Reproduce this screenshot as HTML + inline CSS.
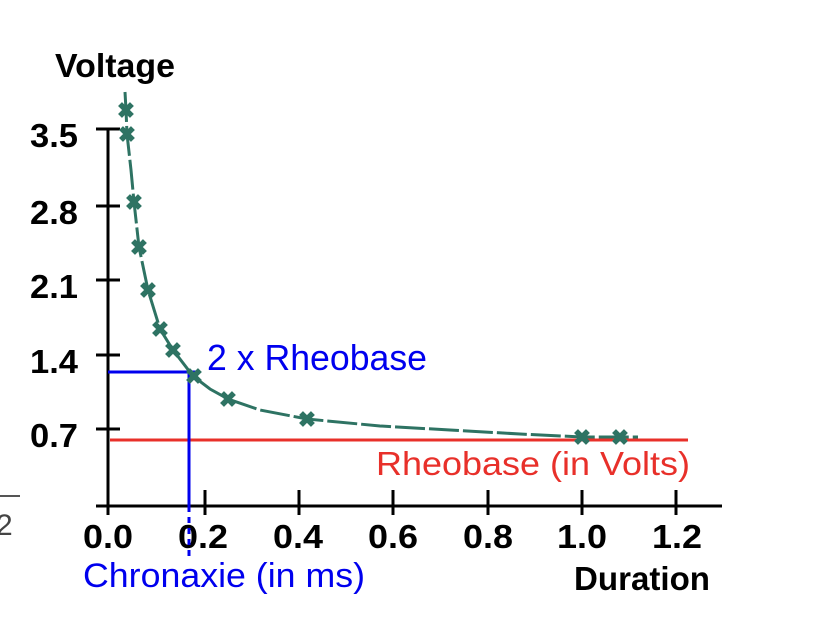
<!DOCTYPE html>
<html><head><meta charset="utf-8"><style>
html,body{margin:0;padding:0;background:#fff;}
svg{display:block;}
text{font-family:"Liberation Sans",sans-serif;}
.b{font-weight:bold;fill:#000;font-size:33px;}
</style></head><body>
<svg width="818" height="638" viewBox="0 0 818 638" xmlns="http://www.w3.org/2000/svg">
<rect width="818" height="638" fill="#fff"/>
<line x1="0" y1="496" x2="20" y2="496" stroke="#555" stroke-width="2"/>
<text x="-4" y="535" font-size="30" fill="#444">2</text>
<g stroke="#000" stroke-width="3" fill="none">
<line x1="108" y1="129" x2="108" y2="515"/>
<line x1="96" y1="506" x2="722" y2="506"/>
<line x1="96" y1="129" x2="120" y2="129"/>
<line x1="96" y1="206" x2="120" y2="206"/>
<line x1="96" y1="280" x2="120" y2="280"/>
<line x1="96" y1="355" x2="120" y2="355"/>
<line x1="96" y1="429" x2="120" y2="429"/>
<line x1="205" y1="490" x2="205" y2="515"/>
<line x1="299" y1="490" x2="299" y2="515"/>
<line x1="393" y1="490" x2="393" y2="515"/>
<line x1="488" y1="490" x2="488" y2="515"/>
<line x1="582" y1="490" x2="582" y2="515"/>
<line x1="676" y1="490" x2="676" y2="515"/>
</g>
<text class="b" x="55" y="77" font-size="32" textLength="120" lengthAdjust="spacingAndGlyphs">Voltage</text>
<g class="b">
<text x="30" y="147" textLength="48" lengthAdjust="spacingAndGlyphs">3.5</text>
<text x="30" y="224" textLength="48" lengthAdjust="spacingAndGlyphs">2.8</text>
<text x="30" y="298" textLength="48" lengthAdjust="spacingAndGlyphs">2.1</text>
<text x="30" y="373" textLength="48" lengthAdjust="spacingAndGlyphs">1.4</text>
<text x="30" y="447" textLength="48" lengthAdjust="spacingAndGlyphs">0.7</text>
</g>
<g class="b">
<text x="83" y="548" textLength="50" lengthAdjust="spacingAndGlyphs">0.0</text>
<text x="178" y="548" textLength="50" lengthAdjust="spacingAndGlyphs">0.2</text>
<text x="273" y="548" textLength="50" lengthAdjust="spacingAndGlyphs">0.4</text>
<text x="368" y="548" textLength="50" lengthAdjust="spacingAndGlyphs">0.6</text>
<text x="463" y="548" textLength="50" lengthAdjust="spacingAndGlyphs">0.8</text>
<text x="557" y="548" textLength="50" lengthAdjust="spacingAndGlyphs">1.0</text>
<text x="652" y="548" textLength="50" lengthAdjust="spacingAndGlyphs">1.2</text>
</g>
<text class="b" x="574" y="590" font-size="32" textLength="136" lengthAdjust="spacingAndGlyphs">Duration</text>
<line x1="110" y1="440" x2="688" y2="440" stroke="#e8302a" stroke-width="3"/>
<text x="376" y="475" font-size="33" fill="#e8302a" textLength="314" lengthAdjust="spacingAndGlyphs">Rheobase (in Volts)</text>
<g stroke="#0000ee" stroke-width="3" fill="none">
<line x1="108" y1="372" x2="197" y2="372"/>
<line x1="189" y1="372" x2="189" y2="506"/>
<line x1="189" y1="506" x2="189" y2="560" stroke-dasharray="6,5"/>
</g>
<text x="207" y="370" font-size="36" fill="#0000ee" textLength="220" lengthAdjust="spacingAndGlyphs">2 x Rheobase</text>
<text x="83" y="587" font-size="34" fill="#0000ee" textLength="282" lengthAdjust="spacingAndGlyphs">Chronaxie (in ms)</text>
<polyline fill="none" stroke="#2e7363" stroke-width="3" stroke-dasharray="30,4"
points="125,92 126,110 127,134 131,170 134,202 139,247 148,290 160,329 173,350 193,376 210,389 228,399 260,410 307,419 380,426 450,430 520,434 582,437 620,437 638,437"/>
<g fill="#2e7363" font-size="22" font-weight="bold" text-anchor="middle">
<text x="126" y="118">✖</text>
<text x="127" y="142">✖</text>
<text x="134" y="210">✖</text>
<text x="139" y="255">✖</text>
<text x="148" y="298">✖</text>
<text x="160" y="337">✖</text>
<text x="173" y="358">✖</text>
<text x="194" y="384">✖</text>
<text x="228" y="407">✖</text>
<text x="307" y="427">✖</text>
<text x="582" y="445">✖</text>
<text x="620" y="445">✖</text>
</g>
</svg>
</body></html>
